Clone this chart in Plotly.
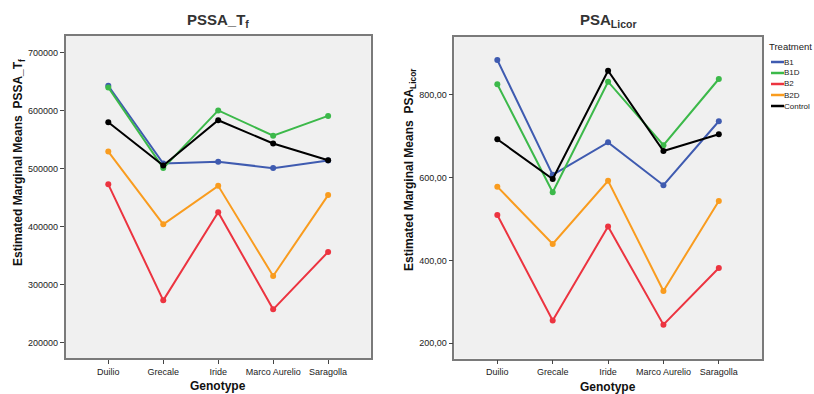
import plotly.graph_objects as go

genotypes = ["Duilio", "Grecale", "Iride", "Marco Aurelio", "Saragolla"]
treatments = ["B1", "B1D", "B2", "B2D", "Control"]
colors = {"B1": "#3f5bb0", "B1D": "#3cb94a", "B2": "#ec3440", "B2D": "#f99c1f", "Control": "#000000"}

pssa_tf = {
    "B1":      [643000, 509000, 512000, 501000, 514000],
    "B1D":     [640000, 501000, 600500, 557000, 591000],
    "B2":      [473000, 273000, 425000, 257500, 356500],
    "B2D":     [529500, 404000, 470500, 315000, 454500],
    "Control": [580000, 505500, 583500, 543500, 514500],
}
psa_licor = {
    "B1":      [884.5, 607.0, 685.5, 582.0, 736.5],
    "B1D":     [826.0, 565.0, 832.0, 678.5, 838.5],
    "B2":      [510.0, 255.0, 482.0, 245.0, 382.0],
    "B2D":     [578.5, 440.0, 592.5, 326.5, 544.0],
    "Control": [693.0, 597.0, 858.5, 664.5, 705.0],
}
left_ticks = [200000, 300000, 400000, 500000, 600000, 700000]
right_ticks = [200, 400, 600, 800]
right_ticklabels = ["200,00", "400,00", "600,00", "800,00"]

W, H = 814, 394
fig = go.Figure()
xs = list(range(len(genotypes)))
for t in treatments:
    fig.add_trace(go.Scatter(x=xs, y=pssa_tf[t], mode="lines+markers", name=t,
                             line=dict(color=colors[t], width=2), marker=dict(size=6, color=colors[t]),
                             xaxis="x", yaxis="y", showlegend=False))
for t in treatments:
    fig.add_trace(go.Scatter(x=xs, y=psa_licor[t], mode="lines+markers", name=t,
                             line=dict(color=colors[t], width=2), marker=dict(size=6, color=colors[t]),
                             xaxis="x2", yaxis="y2", showlegend=False))

FONT = "Liberation Sans, Arial"
tickfont = dict(family=FONT, size=9, color="#222")
axcommon = dict(showgrid=False, zeroline=False, showline=True, linecolor="#7a7a7a", linewidth=1.5,
                mirror=True, ticks="outside", ticklen=4, tickcolor="#444", tickfont=tickfont)

fig.update_layout(
    width=W, height=H, margin=dict(l=0, r=0, t=0, b=0),
    paper_bgcolor="white", plot_bgcolor="#f0f0f0", showlegend=False,
    xaxis=dict(domain=[65.7/W, 370.7/W], anchor="y", range=[-0.775, 4.775],
               tickmode="array", tickvals=xs, ticktext=genotypes, **axcommon),
    yaxis=dict(domain=[1-358/H, 1-36/H], anchor="x", range=[173600, 728800],
               tickmode="array", tickvals=left_ticks, ticktext=[str(v) for v in left_ticks], **axcommon),
    xaxis2=dict(domain=[454.3/W, 762/W], anchor="y2", range=[-0.777, 4.78],
                tickmode="array", tickvals=xs, ticktext=genotypes, **axcommon),
    yaxis2=dict(domain=[1-358.7/H, 1-37/H], anchor="x2", range=[162.8, 940],
                tickmode="array", tickvals=right_ticks, ticktext=right_ticklabels, **axcommon),
)

bold = dict(family=FONT, size=12, color="#111")
title_font = dict(family=FONT, size=15, color="#333")
ann = [
    dict(text="<b>PSSA_T<sub>f</sub></b>", x=218/W, y=1-20/H, font=title_font),
    dict(text="<b>PSA<sub>Licor</sub></b>", x=608/W, y=1-20/H, font=title_font),
    dict(text="<b>Genotype</b>", x=218/W, y=1-386/H, font=bold),
    dict(text="<b>Genotype</b>", x=608/W, y=1-387/H, font=bold),
    dict(text="<b>Estimated Marginal Means  PSSA_T<sub>f</sub></b>", x=19/W, y=1-163/H, font=bold, textangle=-90),
    dict(text="<b>Estimated Marginal Means  PSA<sub>Licor</sub></b>", x=410/W, y=1-170/H, font=bold, textangle=-90),
]
for a in ann:
    fig.add_annotation(xref="paper", yref="paper", showarrow=False, xanchor="center", yanchor="middle", **a)

# Legend (drawn as a key in paper space)
fig.add_annotation(xref="paper", yref="paper", showarrow=False, xanchor="left", yanchor="middle",
                   x=767/W, y=1-47/H, text="Treatment", font=dict(family=FONT, size=9.5, color="#222"))
for i, t in enumerate(treatments):
    yy = 1 - (62 + 11 * i) / H
    fig.add_shape(type="line", xref="paper", yref="paper", x0=771/W, x1=784/W, y0=yy, y1=yy,
                  line=dict(color=colors[t], width=2.5))
    fig.add_annotation(xref="paper", yref="paper", showarrow=False, xanchor="left", yanchor="middle",
                       x=782/W, y=yy, text=t, font=dict(family=FONT, size=8, color="#222"))

fig.write_html("out.html", config={"displayModeBar": False},
               post_script="document.body.style.margin='0px';document.body.style.overflow='hidden';")
